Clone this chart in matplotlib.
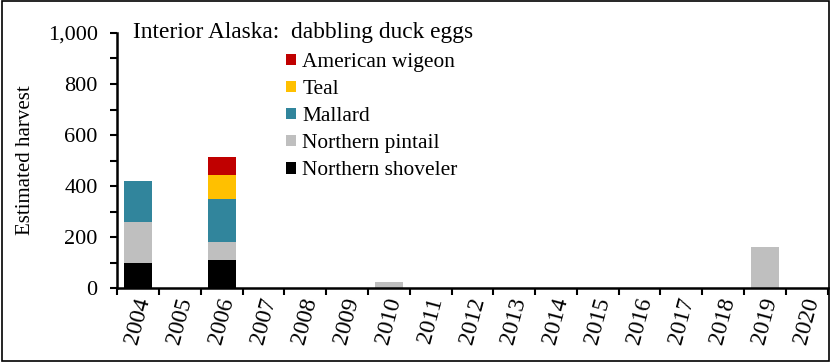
import numpy as np
import matplotlib
matplotlib.use("Agg")
import matplotlib.pyplot as plt
from matplotlib.ticker import MultipleLocator, FuncFormatter
from matplotlib.patches import Rectangle

years = [str(y) for y in range(2004, 2021)]
shoveler = [100, 0, 110, 0, 0, 0, 0, 0, 0, 0, 0, 0, 0, 0, 0, 0, 0]
pintail = [160, 0, 70, 0, 0, 0, 25, 0, 0, 0, 0, 0, 0, 0, 0, 160, 0]
mallard = [160, 0, 170, 0, 0, 0, 0, 0, 0, 0, 0, 0, 0, 0, 0, 0, 0]
teal = [0, 0, 95, 0, 0, 0, 0, 0, 0, 0, 0, 0, 0, 0, 0, 0, 0]
wigeon = [0, 0, 70, 0, 0, 0, 0, 0, 0, 0, 0, 0, 0, 0, 0, 0, 0]

series = [("Northern shoveler", shoveler, "#000000"),
          ("Northern pintail", pintail, "#BFBFBF"),
          ("Mallard", mallard, "#31859C"),
          ("Teal", teal, "#FFC000"),
          ("American wigeon", wigeon, "#C00000")]

plt.rcParams['font.family'] = ['Liberation Serif', 'DejaVu Serif']

fig = plt.figure(figsize=(8.31, 3.62), dpi=100)
ax = fig.add_axes([0.141, 0.204, 0.855, 0.705])

x = np.arange(len(years))
bottom = np.zeros(len(years))
handles = []
for name, vals, col in series:
    vals = np.array(vals, dtype=float)
    b = ax.bar(x, vals, 0.67, bottom=bottom, color=col, label=name)
    bottom += vals
    handles.append(b)

ax.set_xlim(-0.5, len(years) - 0.5)
ax.set_ylim(0, 1000)
ax.yaxis.set_major_locator(MultipleLocator(200))
ax.yaxis.set_minor_locator(MultipleLocator(100))
ax.yaxis.set_major_formatter(FuncFormatter(lambda v, p: f"{int(v):,}"))
ax.set_xticks(np.arange(len(years) + 1) - 0.5)
ax.set_xticklabels([])
ax.set_xticks(x, minor=True)
ax.set_xticklabels(years, minor=True, rotation=75, fontsize=17, va='top', ha='center')
ax.tick_params(axis='x', which='minor', length=0, pad=5)
ax.tick_params(axis='x', which='major', direction='out', length=5, width=1.5)
ax.tick_params(axis='y', which='both', direction='out', width=1.5, labelsize=16, pad=9)
ax.tick_params(axis='y', which='major', length=5)
ax.tick_params(axis='y', which='minor', length=5)

for s in ['top', 'right']:
    ax.spines[s].set_visible(False)
for s in ['left', 'bottom']:
    ax.spines[s].set_linewidth(1.8)

ax.set_ylabel("Estimated harvest", fontsize=15, labelpad=9)
ax.text(0.022, 1.0, "Interior Alaska:  dabbling duck eggs", transform=ax.transAxes,
        fontsize=16.8, va='center', ha='left')

leg = ax.legend(handles[::-1], [s[0] for s in series][::-1], loc='upper left',
                bbox_to_anchor=(0.226, 0.955), frameon=False, fontsize=15.4,
                handlelength=0.45, handleheight=0.45, handletextpad=0.3,
                labelspacing=0.38, borderaxespad=0)

fig.patches.append(Rectangle((0.002, 0.003), 0.996, 0.994, transform=fig.transFigure,
                             fill=False, edgecolor='black', linewidth=1.2))

fig.savefig("out.png", dpi=100)
